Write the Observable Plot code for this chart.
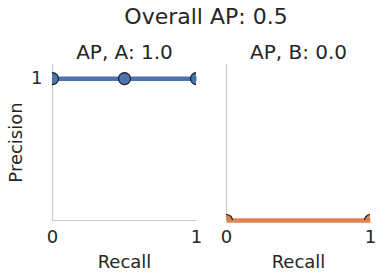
<!DOCTYPE html>
<html>
<head>
<meta charset="utf-8">
<script src="https://cdn.jsdelivr.net/npm/d3@7"></script>
<script src="https://cdn.jsdelivr.net/npm/@observablehq/plot@0.6"></script>
<style>
  html, body { margin: 0; padding: 0; background: #fff; }
  body { width: 382px; height: 279px; overflow: hidden; font-family: "DejaVu Sans", sans-serif; }
  #title { height: 34px; line-height: 34px; font-size: 22px; color: #262626; text-align: center; padding-left: 30px; box-sizing: border-box; width: 382px; }
</style>
</head>
<body>
<div id="title">Overall AP: 0.5</div>
<div id="chart"></div>
<script>
const overallTitle = "Overall AP: 0.5";
const classes = ["A", "B"];
const facetTitles = ["AP, A: 1.0", "AP, B: 0.0"];
const colors = ["#4c72b0", "#dd8452"];
const recallA = [0, 0.5, 1];
const precisionA = [1, 1, 1];
const recallB = [0, 1];
const precisionB = [0, 0];
const xTicks = [0, 1];
const yTicks = [1];
const xLabel = "Recall";
const yLabel = "Precision";

document.getElementById("title").textContent = overallTitle;

const points = [
  ...recallA.map((r, i) => ({cls: "A", recall: r, precision: precisionA[i]})),
  ...recallB.map((r, i) => ({cls: "B", recall: r, precision: precisionB[i]}))
];
const titles = classes.map((c, i) => ({cls: c, title: facetTitles[i]}));

const chart = Plot.plot({
  width: 382,
  height: 245,
  marginLeft: 52,
  marginRight: 12,
  marginTop: 30,
  marginBottom: 59,
  style: {fontFamily: "DejaVu Sans, sans-serif", color: "#262626", background: "#fff"},
  fx: {domain: classes, paddingInner: 30 / 174, paddingOuter: 0, axis: null},
  x: {domain: [0, 1]},
  y: {domain: [0, 1.1]},
  color: {domain: classes, range: colors},
  marks: [
    Plot.ruleX([0], {stroke: "#cccccc", strokeWidth: 1.2}),
    Plot.ruleY([0], {stroke: "#cccccc", strokeWidth: 1.2}),
    Plot.axisX({ticks: xTicks, tickSize: 0, tickPadding: 10, fontSize: 18, label: null, tickFormat: d3.format("d")}),
    Plot.axisY({ticks: yTicks, tickSize: 0, tickPadding: 10, fontSize: 18, label: null, tickFormat: d3.format("d")}),
    Plot.text([xLabel], {frameAnchor: "bottom", lineAnchor: "middle", dy: 42, fontSize: 18, fill: "#262626"}),
    Plot.text([{cls: "A"}], {fx: "cls", text: () => yLabel, frameAnchor: "left", textAnchor: "middle", lineAnchor: "middle", dx: -36, rotate: -90, fontSize: 18, fill: "#262626"}),
    Plot.text(titles, {fx: "cls", text: "title", frameAnchor: "top", lineAnchor: "middle", dy: -12, fontSize: 20, fill: "#262626"}),
    Plot.line(points, {fx: "cls", x: "recall", y: "precision", stroke: "cls", strokeWidth: 4.5, strokeLinecap: "butt"}),
    Plot.dot(points, {fx: "cls", x: "recall", y: "precision", fill: "cls", stroke: "#1a1a1a", strokeWidth: 1.2, r: 6, clip: true})
  ]
});
document.getElementById("chart").appendChild(chart);
</script>
</body>
</html>
